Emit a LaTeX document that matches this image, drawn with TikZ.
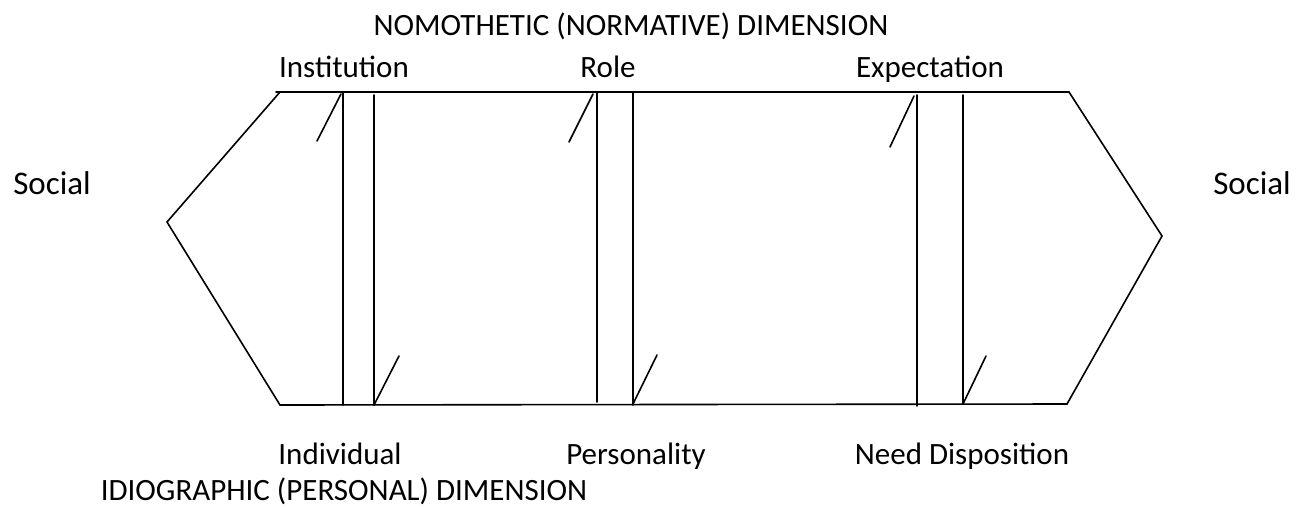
\documentclass[tikz,border=0pt]{standalone}
\usepackage{fontspec}
\setmainfont{Carlito}
\tikzset{
  lbl/.style={inner sep=0pt, anchor=base, font=\fontsize{31}{37}\selectfont},
  soc/.style={inner sep=0pt, anchor=base, font=\fontsize{33}{39}\selectfont},
  ln/.style={line width=1.6pt, line cap=round, line join=miter}
}
\begin{document}
\begin{tikzpicture}[x=1pt,y=-1pt]
\useasboundingbox (0,0) rectangle (1297,506);
% outline
\coordinate (tl) at (276,92);
\coordinate (tr) at (1069,92);
\coordinate (lap) at (167,222);
\coordinate (bl) at (280,405);
\coordinate (br) at (1067,404);
\coordinate (rap) at (1162,236);
\draw[ln] (tl) -- (tr) -- (rap) -- (br) -- (bl) -- (lap) -- (280,92);
% verticals
\draw[ln] (343,92) -- (343,405);
\draw[ln] (374,95) -- (374,405);
\draw[ln] (597,92) -- (597,402);
\draw[ln] (633,92) -- (633,405);
\draw[ln] (917,95) -- (917,406);
\draw[ln] (963,95) -- (963,404);
% top ticks
\draw[ln] (341,94) -- (317,141);
\draw[ln] (593,94) -- (569,142);
\draw[ln] (914,96) -- (890,147);
% bottom ticks
\draw[ln] (374,405) -- (399,356);
\draw[ln] (633,404) -- (657,355);
\draw[ln] (963,404) -- (986,356);
% texts
\node[lbl] (nomo) at (631,35) {NOMOTHETIC (NORMATIVE) DIMENSION};
\node[lbl] (inst) at (344,77) {Institution};
\node[lbl] (role) at (608,77) {Role};
\node[lbl] (expe) at (930,77) {Expectation};
\node[soc] (socl) at (52,194) {Social};
\node[soc] (socr) at (1252,194) {Social};
\node[lbl] (indi) at (340,464) {Individual};
\node[lbl] (pers) at (636,464) {Personality};
\node[lbl] (need) at (962,464) {Need Disposition};
\node[lbl] (idio) at (344,500) {IDIOGRAPHIC (PERSONAL) DIMENSION};
\end{tikzpicture}
\end{document}
